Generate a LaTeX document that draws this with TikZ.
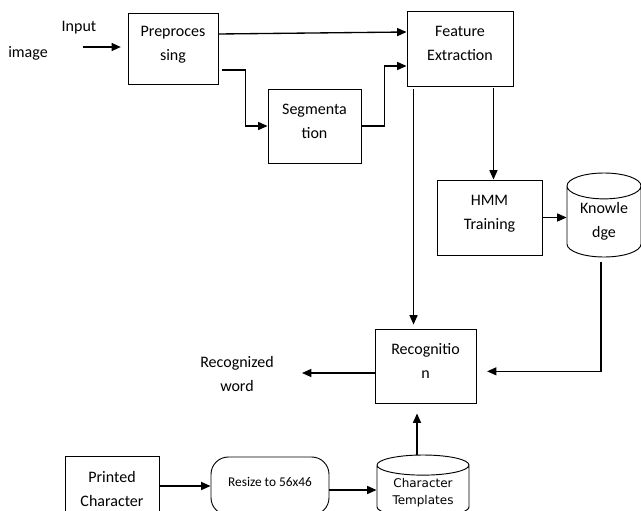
\documentclass[tikz,border=0pt]{standalone}
\usepackage{fontspec}
\setmainfont{Carlito}
\newfontfamily\tplfont{DejaVu Sans}
\usetikzlibrary{arrows.meta, shapes.geometric}

\begin{document}
\begin{tikzpicture}[x=0.75pt, y=-0.75pt,
    block/.style={rectangle, draw, line width=0.7pt, align=center, inner sep=0pt,
        font=\fontsize{12}{18}\selectfont, text depth=7pt},
    store/.style={cylinder, draw, shape border rotate=90, line width=0.7pt, align=center,
        inner sep=0pt, anchor=shape center},
    word/.style={align=center, font=\fontsize{12}{18}\selectfont},
    arr/.style={-{Triangle[length=7pt, width=6pt]}, line width=1pt}]
    \useasboundingbox (0,0) rectangle (641,510);
    \clip (0,0) rectangle (641,510);

    % Free text
    \node (input) [word] at (79,28) {Input};
    \node (image) [word] at (28,53) {image};
    \node (recword) [word] at (237,374) {Recognized\\word};

    % Processing blocks
    \node (pre) [block, minimum width=67.5pt, minimum height=53.25pt] at (173,48.5) {Preproces\\sing};
    \node (seg) [block, minimum width=69.75pt, minimum height=55.5pt] at (314.5,126) {Segmenta\\tion};
    \node (feat) [block, minimum width=79.5pt, minimum height=56.25pt] at (460,48.5) {Feature\\Extraction};
    \node (hmm) [block, minimum width=78.75pt, minimum height=56.25pt] at (489.5,217.5) {HMM\\Training};
    \node (rec) [block, minimum width=75.75pt, minimum height=55.5pt] at (425.5,366) {Recognitio\\n};
    \node (print) [block, minimum width=70.5pt, minimum height=56.25pt] at (112,493.5) {Printed\\Character};
    \node (resize) [rectangle, draw, rounded corners=13pt, line width=0.7pt, inner sep=0pt,
        minimum width=88.5pt, minimum height=43.5pt, text depth=6pt,
        font=\fontsize{10}{12}\selectfont] at (270,486) {Resize to 56x46};

    % Stores
    \node (know) [store, minimum width=55.5pt, minimum height=63pt, aspect=0.54,
        font=\fontsize{12}{18}\selectfont] at (604,215) {Knowle\\dge};
    \node (templ) [store, minimum width=69pt, minimum height=46.5pt, aspect=0.33,
        text depth=0pt, font=\tplfont\fontsize{9}{12.75}\selectfont] at (423,486) {Character\\Templates};

    % Edges
    \coordinate (in) at (83,47);
    \draw[arr, shorten >=5pt] (in) -- (in -| pre.west);
    \draw[arr] (pre.east |- 0,34) -- (feat.west |- 0,32);
    \coordinate (pout) at ([xshift=3pt]pre.east |- 0,70);
    \draw[arr] (pout) -- ++(23,0) |- (seg);
    \draw[arr] (seg.east) -- ++(23,0) |- (feat.west |- 0,66);
    \coordinate (fleft) at ([shift={(7,3)}]feat.south west);
    \draw[arr, shorten >=3pt] (fleft) -- (fleft |- rec.north);
    \coordinate (fright) at ([shift={(-20,2)}]feat.south east);
    \draw[arr] (fright) -- (fright |- hmm.north);
    \draw[arr] (hmm.east) -- (hmm.east -| know.west);
    \coordinate (kdown) at ([shift={(-3,5)}]know.south);
    \draw[arr, shorten >=8pt] (kdown) |- ([yshift=-4pt]rec.east);
    \coordinate (out) at (302,373);
    \draw[arr] (rec.west |- out) -- (out);
    \coordinate (tup) at ([xshift=-4.5pt]templ.north);
    \draw[arr, shorten >=7.5pt] (tup) -- (tup |- rec.south);
    \draw[arr] (print.east |- resize) -- (resize);
    \draw[arr] ([yshift=-3pt]resize.east) -- ([yshift=-3pt]resize.east -| templ.west);
\end{tikzpicture}
\end{document}
